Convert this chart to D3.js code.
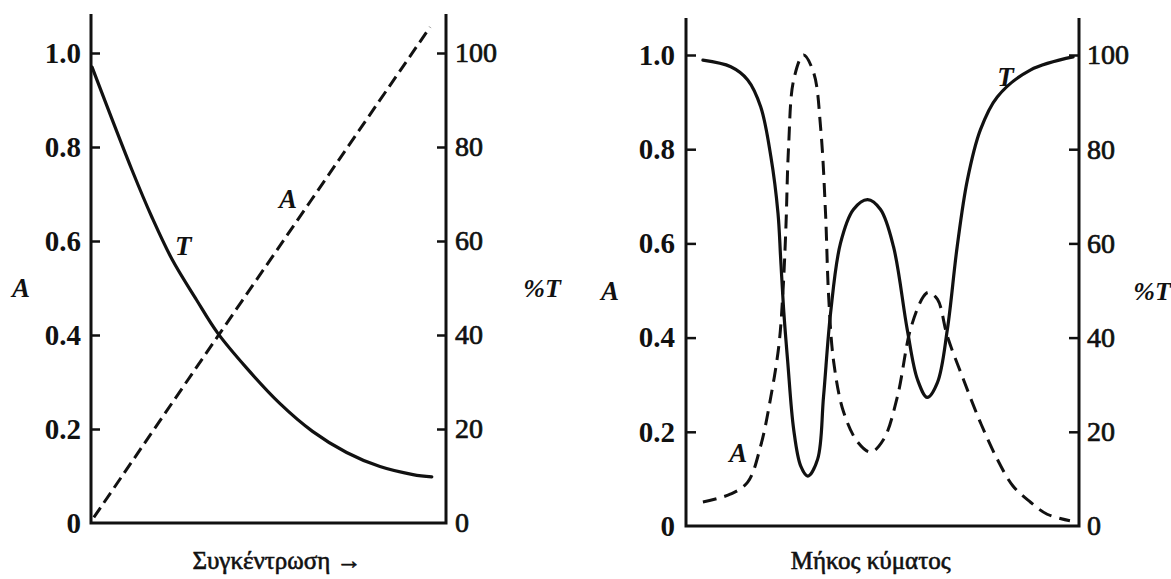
<html>

<head>
    <script src="https://d3js.org/d3.v7.min.js"></script>
</head>

<body style="margin:0;background:white">
    <svg></svg>
    <script>
        // ---- data ----
        // left panel: concentration (arbitrary 0..1)
        const concT = [0.003, 0.116, 0.172, 0.229, 0.297, 0.356, 0.438, 0.531, 0.624, 0.720, 0.814, 0.907, 0.960]
        const pctT = [97, 75, 65, 56, 47.5, 40.5, 33, 25.5, 19.5, 15, 12, 10.3, 9.8]
        const concA = [0.008, 0.356, 0.955]
        const absA = [0.012, 0.396, 1.055]

        // right panel: wavelength (arbitrary 0..1)
        const waveT = [0.043, 0.114, 0.157, 0.190, 0.216, 0.234, 0.241, 0.249, 0.259, 0.274, 0.292, 0.310, 0.335,
            0.350, 0.368, 0.393, 0.426, 0.462, 0.495, 0.528, 0.563, 0.589, 0.614, 0.640, 0.665, 0.690, 0.716,
            0.749, 0.792, 0.876, 0.985]
        const specT = [98.9, 97.5, 94.7, 89, 78.4, 66.5, 56.6, 45.3, 34.7, 20.5, 12.7, 10.6, 14.2,
            27.5, 45.3, 60, 67.2, 69.3, 67.2, 59.3, 41.7, 31.1, 27.3, 30.5, 41.7, 59.3, 73.5,
            84.1, 91.1, 96.8, 99.6]
        const waveA = [0.043, 0.114, 0.157, 0.190, 0.216, 0.236, 0.246, 0.254, 0.261, 0.274, 0.299, 0.325, 0.343,
            0.355, 0.363, 0.376, 0.401, 0.437, 0.470, 0.503, 0.538, 0.571, 0.604, 0.617, 0.640, 0.665, 0.706,
            0.749, 0.792, 0.832, 0.876, 0.919, 0.977]
        const specA = [0.051, 0.068, 0.093, 0.17, 0.275, 0.381, 0.487, 0.629, 0.805, 0.947, 1.0, 0.962, 0.841,
            0.665, 0.487, 0.347, 0.242, 0.178, 0.157, 0.184, 0.275, 0.417, 0.487, 0.496, 0.481, 0.403, 0.311,
            0.220, 0.142, 0.085, 0.051, 0.025, 0.011]

        const ticksA = [0, 0.2, 0.4, 0.6, 0.8, 1.0]
        const ticksT = [0, 20, 40, 60, 80, 100]
        const xTitles = ["Συγκέντρωση →", "Μήκος κύματος"]

        const width = 1171
        const height = 579
        const ink = "#111"
        const font = "'Liberation Serif', serif"

        const svg = d3.select("svg")
            .attr("width", width)
            .attr("height", height)
            .attr("viewBox", [0, 0, width, height])
            .style("font-family", font)

        function drawPanel(p) {
            const x = d3.scaleLinear([0, 1], [p.left, p.right])
            const yA = d3.scaleLinear([0, 1], [p.base, p.top1])
            const yT = d3.scaleLinear([0, 100], [p.base, p.top1])

            const g = svg.append("g")

            // frame: two verticals and the base line
            g.append("path")
                .attr("fill", "none")
                .attr("stroke", ink)
                .attr("stroke-width", 3)
                .attr("d", `M${p.left},${p.axisTop}V${p.base}H${p.right}V${p.axisTop}`)

            // left axis (A), ticks point inwards
            g.append("g")
                .attr("transform", `translate(${p.left},0)`)
                .call(d3.axisLeft(yA).tickValues(ticksA).tickSizeInner(-p.tick).tickSizeOuter(0).tickPadding(p.padL)
                    .tickFormat(d => d === 0 ? "0" : d3.format(".1f")(d)))
                .call(g => g.select(".domain").remove())
                .call(g => g.selectAll(".tick line").attr("stroke", ink).attr("stroke-width", 2.5)
                    .filter(d => d === 0).remove())
                .call(g => g.selectAll(".tick text").attr("fill", ink)
                    .style("font-family", font).style("font-size", "29px").style("font-weight", "bold"))

            // right axis (%T)
            g.append("g")
                .attr("transform", `translate(${p.right},0)`)
                .call(d3.axisRight(yT).tickValues(ticksT).tickSizeInner(-p.tick).tickSizeOuter(0).tickPadding(p.padR))
                .call(g => g.select(".domain").remove())
                .call(g => g.selectAll(".tick line").attr("stroke", ink).attr("stroke-width", 2.5)
                    .filter(d => d === 0).remove())
                .call(g => g.selectAll(".tick text").attr("fill", ink)
                    .attr("stroke", ink).attr("stroke-width", 0.7)
                    .style("font-family", font).style("font-size", "28px"))

            // curves
            const lineT = d3.line().curve(d3.curveCatmullRom.alpha(0.5)).x(i => x(p.xT[i])).y(i => yT(p.vT[i]))
            const lineA = d3.line().curve(d3.curveCatmullRom.alpha(0.5)).x(i => x(p.xA[i])).y(i => yA(p.vA[i]))

            g.append("path")
                .attr("fill", "none")
                .attr("stroke", ink)
                .attr("stroke-width", 3.2)
                .attr("stroke-linecap", "round")
                .attr("d", lineT(d3.range(p.xT.length)))

            g.append("path")
                .attr("fill", "none")
                .attr("stroke", ink)
                .attr("stroke-width", 3)
                .attr("stroke-dasharray", p.dash)
                .attr("d", lineA(d3.range(p.xA.length)))

            // axis names
            g.append("text")
                .attr("x", p.left - p.nameL).attr("y", (p.base + p.top1) / 2)
                .attr("dy", "0.35em").attr("text-anchor", "middle")
                .attr("fill", ink).style("font-size", "27px").style("font-weight", "bold").style("font-style", "italic")
                .text("A")
            g.append("text")
                .attr("x", p.right + p.nameR).attr("y", (p.base + p.top1) / 2)
                .attr("dy", "0.35em").attr("text-anchor", "middle")
                .attr("fill", ink).style("font-size", "26px").style("font-weight", "bold").style("font-style", "italic")
                .text("%T")

            // curve labels
            p.curveLabels.forEach(l => {
                g.append("text")
                    .attr("x", x(l.x)).attr("y", yA(l.y))
                    .attr("dy", "0.35em").attr("text-anchor", "middle")
                    .attr("fill", ink).style("font-size", "27px").style("font-weight", "bold").style("font-style", "italic")
                    .text(l.t)
            })

            // x title, baseline kept clear of the bottom edge
            g.append("text")
                .attr("x", x(p.titleX)).attr("y", 569)
                .attr("text-anchor", "middle")
                .attr("fill", ink).attr("stroke", ink).attr("stroke-width", 0.6)
                .style("font-size", "25px")
                .text(p.title)
        }

        drawPanel({
            left: 91, right: 446, top1: 53, base: 523, axisTop: 14, tick: 9, padL: 10, padR: 9,
            nameL: 70, nameR: 96, dash: "12,6",
            xT: concT, vT: pctT, xA: concA, vA: absA,
            curveLabels: [{ t: "T", x: 0.26, y: 0.59 }, { t: "A", x: 0.555, y: 0.69 }],
            title: xTitles[0], titleX: 0.524
        })

        drawPanel({
            left: 686, right: 1079, top1: 55, base: 526, axisTop: 18, tick: 10, padL: 11, padR: 8,
            nameL: 76, nameR: 73, dash: "14,8",
            xT: waveT, vT: specT, xA: waveA, vA: specA,
            curveLabels: [{ t: "T", x: 0.813, y: 0.955 }, { t: "A", x: 0.133, y: 0.155 }],
            title: xTitles[1], titleX: 0.47
        })
    </script>
</body>

</html>
